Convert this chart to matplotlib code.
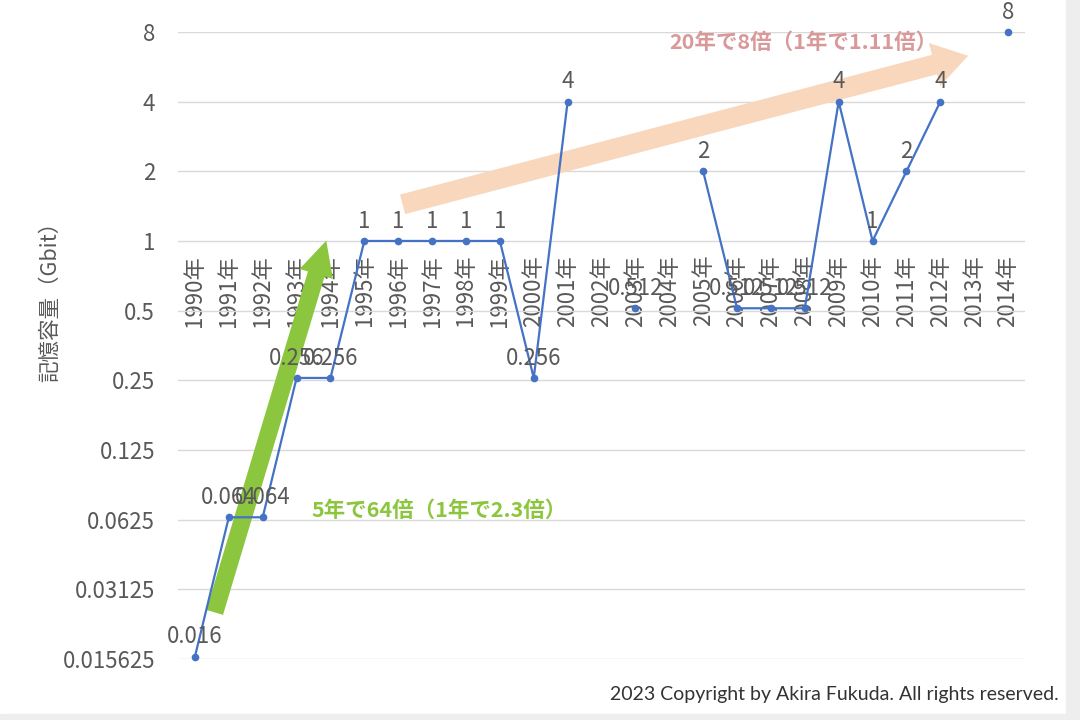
import numpy as np
import matplotlib.pyplot as plt
from matplotlib.patches import Rectangle

plt.rcParams['font.family'] = ['Noto Sans CJK JP', 'DejaVu Sans']

# データ（記憶容量 Gbit）
years = [f"{y}年" for y in range(1990, 2015)]
capacity = [0.016, 0.064, 0.064, 0.256, 0.256, 1, 1, 1, 1, 1, 0.256, 4,
            np.nan, 0.512, np.nan, 2, 0.512, 0.512, 0.512, 4, 1, 2, 4,
            np.nan, 8]
ytick_vals = [0.015625, 0.03125, 0.0625, 0.125, 0.25, 0.5, 1, 2, 4, 8]
ytick_labels = ["0.015625", "0.03125", "0.0625", "0.125", "0.25", "0.5",
                "1", "2", "4", "8"]

gray = '#595959'
blue = '#4472C4'

fig = plt.figure(figsize=(10.8, 7.2), dpi=100)
ax = fig.add_axes([0.1648, 0.0847, 0.7843, 0.8709])

x = np.arange(len(years))
ax.plot(x, capacity, color=blue, linewidth=1.6, marker='o', markersize=4.5,
        clip_on=False, zorder=3)

# データラベル
for i, v in enumerate(capacity):
    if np.isnan(v):
        continue
    ax.annotate(f"{v:g}", (i, v), xytext=(0, 6), textcoords='offset points',
                ha='center', va='bottom', fontsize=16, color=gray, zorder=4)

ax.set_yscale('log', base=2)
ax.set_ylim(0.015625, 8)
ax.set_xlim(-0.5, len(years) - 0.5)
ax.set_yticks(ytick_vals)
ax.set_yticklabels(ytick_labels)
ax.minorticks_off()
ax.grid(axis='y', color='#D9D9D9', linewidth=1)
ax.set_axisbelow(True)

# 横軸は1で交差（Excel風）
ax.spines['bottom'].set_position(('data', 1))
for s in ['top', 'right', 'left', 'bottom']:
    ax.spines[s].set_visible(False)
ax.set_xticks(x)
ax.set_xticklabels(years, rotation=90)
ax.tick_params(axis='x', length=0, pad=10, labelsize=16, labelcolor=gray)
ax.tick_params(axis='y', length=0, pad=16.5, labelsize=16, labelcolor=gray)

fig.text(0.046, 0.589, "記憶容量（Gbit）", rotation=90, ha='center', va='center',
         fontsize=15.5, color=gray)

# 矢印
ax.annotate('', xy=(3.9, 1.03), xytext=(0.56, 0.0242),
            arrowprops=dict(arrowstyle='simple,head_length=2.5,head_width=2.5,tail_width=1.25',
                            color='#8CC63F', lw=0), zorder=2)
ax.annotate('', xy=(22.9, 6.36), xytext=(6.05, 1.43),
            arrowprops=dict(arrowstyle='simple,head_length=2.5,head_width=3.2,tail_width=1.45',
                            color='#F8D7BC', lw=0), zorder=2)

ax.text(3.45, 0.0689, "5年で64倍（1年で2.3倍）", fontsize=15.5, fontweight='bold',
        color='#8CC63F', va='center', ha='left')
ax.text(14.0, 7.24, "20年で8倍（1年で1.11倍）", fontsize=15.5, fontweight='bold',
        color='#D9999A', va='center', ha='left')

fig.text(0.98, 0.035, "2023 Copyright by Akira Fukuda. All rights reserved.",
         ha='right', va='center', fontsize=14, color='#333333', family='Lato')

# 右端・下端の枠
fig.patches.append(Rectangle((0.987, 0), 0.013, 1, transform=fig.transFigure,
                             color='#EEEEEE', zorder=0))
fig.patches.append(Rectangle((0, 0), 1, 0.008, transform=fig.transFigure,
                             color='#EEEEEE', zorder=0))

fig.savefig("out.png", dpi=100)
